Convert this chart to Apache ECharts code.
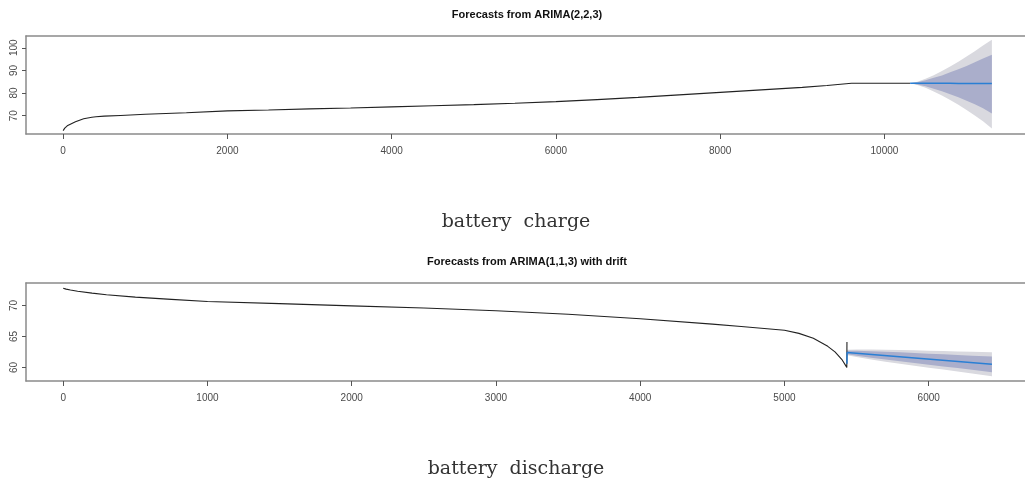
<!DOCTYPE html>
<html>
<head>
<meta charset="utf-8">
<script src="https://cdn.jsdelivr.net/npm/echarts@6/dist/echarts.min.js"></script>
<style>
html,body{margin:0;padding:0;background:#fff;}
#chart{width:1025px;height:480px;}
</style>
</head>
<body>
<div id="chart"></div>
<script>
// ---------- Data: battery charge (top) ----------
const chargeTitle = 'Forecasts from ARIMA(2,2,3)';
const chargeCaption = 'battery  charge';
const chargeX = [0, 20, 50, 100, 150, 200, 250, 300, 350, 400, 500, 700, 1000, 1500, 2000, 2500, 3000, 3500, 4000, 4500, 5000, 5500, 6000, 6500, 7000, 7500, 8000, 8500, 9000, 9300, 9600, 10000, 10313];
const chargeY = [63.4, 64.5, 65.5, 66.4, 67.3, 68.0, 68.6, 69.0, 69.3, 69.5, 69.8, 70.1, 70.6, 71.3, 72.1, 72.5, 73.0, 73.4, 73.9, 74.4, 74.9, 75.5, 76.2, 77.1, 78.1, 79.2, 80.3, 81.4, 82.5, 83.3, 84.3, 84.3, 84.3];
const chargeFcX = [10313, 10400, 10500, 10600, 10700, 10800, 10900, 11000, 11100, 11200, 11308];
const chargeFcMean = [84.3, 84.3, 84.3, 84.3, 84.3, 84.3, 84.2, 84.2, 84.2, 84.2, 84.2];
const chargeHi95 = [84.3, 85.0, 86.3, 87.9, 89.7, 91.7, 93.8, 96.1, 98.5, 101.0, 103.5];
const chargeLo95 = [84.3, 83.6, 82.3, 80.7, 78.9, 76.9, 74.8, 72.5, 70.1, 67.5, 64.3];
const chargeHi80 = [84.3, 84.8, 85.6, 86.7, 87.8, 89.2, 90.5, 92.0, 93.6, 95.3, 96.9];
const chargeLo80 = [84.3, 83.8, 83.0, 81.9, 80.8, 79.5, 78.1, 76.6, 75.0, 73.3, 71.0];
const chargeXTicks = [0, 2000, 4000, 6000, 8000, 10000];
const chargeYTicks = [70, 80, 90, 100];

// ---------- Data: battery discharge (bottom) ----------
const dischargeTitle = 'Forecasts from ARIMA(1,1,3) with drift';
const dischargeCaption = 'battery  discharge';
const dischargeX = [0, 20, 50, 100, 200, 300, 500, 750, 1000, 1500, 2000, 2500, 3000, 3500, 4000, 4500, 4700, 5000, 5100, 5200, 5300, 5350, 5400, 5432, 5433];
const dischargeY = [72.8, 72.65, 72.5, 72.3, 72.0, 71.75, 71.35, 71.0, 70.65, 70.3, 69.95, 69.6, 69.15, 68.6, 67.85, 67.0, 66.6, 66.0, 65.5, 64.7, 63.4, 62.5, 61.2, 60.0, 64.1];
const dischargeMeanX = [5433, 5434, 6438];
const dischargeMeanY = [60.6, 62.4, 60.5];
const dischargeFcX = [5434, 5500, 5600, 5700, 5800, 5900, 6000, 6100, 6200, 6300, 6438];
const dischargeHi95 = [62.85, 62.88, 62.89, 62.87, 62.83, 62.77, 62.70, 62.64, 62.57, 62.51, 62.45];
const dischargeLo95 = [61.95, 61.68, 61.29, 60.93, 60.59, 60.27, 59.96, 59.64, 59.33, 59.01, 58.55];
const dischargeHi80 = [62.69, 62.67, 62.61, 62.53, 62.44, 62.33, 62.22, 62.12, 62.00, 61.90, 61.77];
const dischargeLo80 = [62.11, 61.89, 61.57, 61.27, 60.98, 60.71, 60.44, 60.16, 59.90, 59.62, 59.23];
const dischargeXTicks = [0, 1000, 2000, 3000, 4000, 5000, 6000];
const dischargeYTicks = [60, 65, 70];

// ---------- Styles ----------
const FONT = 'Liberation Sans, Arial, sans-serif';
const BORDER = '#8a8a8a';
const LABEL = '#4a4a4a';
const OUTER = '#d9d9df';
const INNER = '#aaaecb';
const FC_LINE = '#2a7fd4';

function pairs(xs, ys) { return xs.map((x, i) => [x, ys[i]]); }

function band(idx, xs, lo, hi, color, z) {
  return {
    type: 'custom', xAxisIndex: idx, yAxisIndex: idx, silent: true, z: z,
    data: [[xs[0], lo[0]]],
    renderItem: function (params, api) {
      const pts = [];
      for (let i = 0; i < xs.length; i++) pts.push(api.coord([xs[i], hi[i]]));
      for (let i = xs.length - 1; i >= 0; i--) pts.push(api.coord([xs[i], lo[i]]));
      return { type: 'polygon', shape: { points: pts }, style: { fill: color, stroke: null } };
    }
  };
}

function plain(v) { return String(v); }

function xAxisDef(idx, min, max, ticks) {
  return {
    type: 'value', gridIndex: idx, min: min, max: max, position: 'bottom',
    axisLine: { show: true, onZero: false, lineStyle: { color: BORDER, width: 1.5 } },
    axisTick: { show: true, customValues: ticks, length: 5, lineStyle: { color: '#555', width: 1 } },
    axisLabel: { customValues: ticks, formatter: plain, margin: 12, fontSize: 10, color: LABEL, fontFamily: FONT },
    splitLine: { show: false }
  };
}
function topLine(idx, min, max) {
  return {
    type: 'value', gridIndex: idx, min: min, max: max, position: 'top',
    axisLine: { show: true, onZero: false, lineStyle: { color: BORDER, width: 1.5 } },
    axisTick: { show: false }, axisLabel: { show: false }, splitLine: { show: false }
  };
}
function yAxisDef(idx, min, max, ticks) {
  return {
    type: 'value', gridIndex: idx, min: min, max: max,
    axisLine: { show: true, onZero: false, lineStyle: { color: BORDER, width: 1.5 } },
    axisTick: { show: true, customValues: ticks, length: 4, lineStyle: { color: '#555', width: 1 } },
    axisLabel: { customValues: ticks, formatter: plain, rotate: 90, margin: 7, fontSize: 10, color: LABEL, fontFamily: FONT },
    splitLine: { show: false }
  };
}

const chart = echarts.init(document.getElementById('chart'), null, { renderer: 'canvas' });
chart.setOption({
  animation: false,
  backgroundColor: '#ffffff',
  title: [
    { text: chargeTitle, left: 527, top: 9, textAlign: 'center', padding: 0,
      textStyle: { fontSize: 11, fontWeight: 'bold', color: '#111', fontFamily: FONT } },
    { text: dischargeTitle, left: 527, top: 256, textAlign: 'center', padding: 0,
      textStyle: { fontSize: 11, fontWeight: 'bold', color: '#111', fontFamily: FONT } }
  ],
  grid: [
    { left: 26, top: 36, width: 1003, height: 98, show: false, containLabel: false, outerBoundsMode: 'none' },
    { left: 26, top: 283, width: 1003, height: 98, show: false, containLabel: false, outerBoundsMode: 'none' }
  ],
  xAxis: [
    xAxisDef(0, -452, 11760, chargeXTicks),
    xAxisDef(1, -258, 6695, dischargeXTicks),
    topLine(0, -452, 11760),
    topLine(1, -258, 6695)
  ],
  yAxis: [
    yAxisDef(0, 61.9, 105.2, chargeYTicks),
    yAxisDef(1, 57.8, 73.64, dischargeYTicks)
  ],
  graphic: [
    { type: 'text', silent: true,
      style: { text: chargeCaption, x: 516, y: 222, textAlign: 'center', textVerticalAlign: 'middle',
        font: '19px "DejaVu Serif", serif', fill: '#333' } },
    { type: 'text', silent: true,
      style: { text: dischargeCaption, x: 516, y: 469, textAlign: 'center', textVerticalAlign: 'middle',
        font: '19px "DejaVu Serif", serif', fill: '#333' } }
  ],
  series: [
    band(0, chargeFcX, chargeLo95, chargeHi95, OUTER, 1),
    band(0, chargeFcX, chargeLo80, chargeHi80, INNER, 2),
    { type: 'line', xAxisIndex: 0, yAxisIndex: 0, data: pairs(chargeX, chargeY), showSymbol: false,
      lineStyle: { color: '#222', width: 1.1 }, z: 3, silent: true },
    { type: 'line', xAxisIndex: 0, yAxisIndex: 0, data: pairs(chargeFcX, chargeFcMean), showSymbol: false,
      lineStyle: { color: FC_LINE, width: 1.5 }, z: 4, silent: true },

    band(1, dischargeFcX, dischargeLo95, dischargeHi95, OUTER, 1),
    band(1, dischargeFcX, dischargeLo80, dischargeHi80, INNER, 2),
    { type: 'line', xAxisIndex: 1, yAxisIndex: 1, data: pairs(dischargeX, dischargeY), showSymbol: false,
      lineStyle: { color: '#222', width: 1.1 }, z: 3, silent: true },
    { type: 'line', xAxisIndex: 1, yAxisIndex: 1, data: pairs(dischargeMeanX, dischargeMeanY), showSymbol: false,
      lineStyle: { color: FC_LINE, width: 1.5 }, z: 4, silent: true }
  ]
});
</script>
</body>
</html>
